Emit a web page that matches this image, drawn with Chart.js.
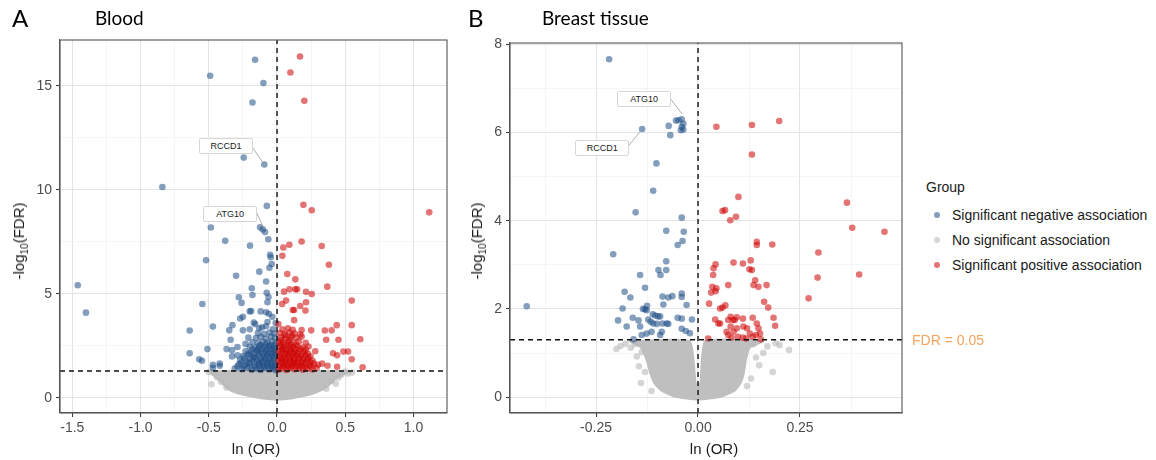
<!DOCTYPE html>
<html lang="en">
<head>
<meta charset="UTF-8">
<title>Volcano plots - Blood and Breast tissue</title>
<script src="https://cdn.jsdelivr.net/npm/chart.js"></script>
<style>
  body { margin: 0; background: #fff; width: 1156px; height: 460px; overflow: hidden; position: relative;
         font-family: "Liberation Sans", Arial, sans-serif; color: #1a1a1a; }
  canvas { position: absolute; top: 0; }
  #chartA { left: 0; }
  #chartB { left: 470px; }
  .txt { position: absolute; white-space: nowrap; transform: translate(0, -50%); }
  .letter { font-family: Lato, sans-serif; font-size: 24px; color: #000; }
  .title { font-family: Lato, sans-serif; font-size: 19px; color: #000; }
  .ytitle { position: absolute; white-space: nowrap; font-size: 15px; transform: translate(-50%, -50%) rotate(-90deg); }
  .ytitle sub { font-size: 10px; }
  .xtitle { position: absolute; white-space: nowrap; font-size: 15px; transform: translate(-50%, -50%); }
  .gene { position: absolute; width: 52px; height: 14px; line-height: 14px; font-size: 9px; text-align: center;
          background: #fff; border: 1px solid #d6d6d6; border-radius: 2px; transform: translate(-50%, -50%); }
  .legend-item { position: absolute; left: 934px; font-size: 14px; white-space: nowrap; transform: translate(0, -50%); }
  .legend-item span { display: inline-block; width: 6px; height: 6px; border-radius: 50%; margin-right: 12px; vertical-align: middle; position: relative; top: -1px; }
  #fdr { position: absolute; font-size: 14px; color: #F4A460; white-space: nowrap; transform: translate(0, -50%); }
</style>
</head>
<body>
<canvas id="chartA" width="460" height="460"></canvas>
<canvas id="chartB" width="450" height="460"></canvas>

<div class="txt letter" style="left:12px; top:17px;">A</div>
<div class="txt title" style="left:95px; top:17px;">Blood</div>
<div class="txt letter" style="left:468px; top:17px;">B</div>
<div class="txt title" style="left:542px; top:17px;">Breast tissue</div>

<div class="ytitle" style="left:20px; top:241px;">-log<sub>10</sub>(FDR)</div>
<div class="ytitle" style="left:478px; top:241px;">-log<sub>10</sub>(FDR)</div>
<div class="xtitle" style="left:256px; top:448px;">ln (OR)</div>
<div class="xtitle" style="left:714px; top:448px;">ln (OR)</div>

<div class="txt" style="left:926px; top:187px; font-size:14px;">Group</div>
<div class="legend-item" style="top:215px;"><span style="background:rgba(31,78,135,0.55)"></span>Significant negative association</div>
<div class="legend-item" style="top:240px;"><span style="background:rgba(185,185,185,0.6)"></span>No significant association</div>
<div class="legend-item" style="top:265px;"><span style="background:rgba(205,0,0,0.55)"></span>Significant positive association</div>
<div id="fdr">FDR = 0.05</div>

<script>
    // FDR = 0.05 threshold on the -log10 scale
    const FDR_CUT = 1.301;

    // ---- Panel A: Blood ----
    const bloodNeg = [
        [-0.161,16.25],[-0.49,15.48],[-0.10,15.13],[-0.18,14.2],[-0.244,11.55],[-0.093,11.22],[-0.84,10.14],
        [-0.075,9.23],[-0.485,8.19],[-0.124,8.2],[-0.105,8.1],[-0.088,7.97],[-0.38,7.55],[-0.064,7.63],[-0.198,7.32],
        [-0.051,6.88],[-0.046,6.76],[-0.039,6.44],[-0.52,6.62],[-0.13,6.07],[-0.056,6.26],[-0.3,5.87],[-0.08,5.6],
        [-0.185,5.27],[-0.076,5.06],[-0.18,4.95],[-0.28,4.84],[-0.547,4.52],[-0.26,4.57],[-0.07,4.6],[-0.063,4.85],
        [-0.2,4.16],[-0.19,4.18],[-0.12,4.16],[-0.08,4.12],[-0.06,4.05],[-0.25,3.9],[-0.27,3.82],[-0.327,3.5],
        [-0.47,3.43],[-0.64,3.24],[-0.35,3.25],[-0.25,3.25],[-0.17,3.62],[-0.16,3.55],[-0.11,3.4],[-0.07,3.65],
        [-0.21,2.9],[-0.34,2.8],[-0.23,2.6],[-0.29,2.45],[-0.51,2.35],[-0.64,2.15],[-0.57,1.86],[-0.55,1.79],
        [-0.37,2.35],[-0.33,2.3],[-0.47,1.45],[-0.42,1.55],[-0.47,1.59],[-0.42,1.66],[-0.33,2.0],[-0.29,2.05],
        [-1.46,5.42],[-1.40,4.1],
        [-0.31,1.42],[-0.26,1.38],[-0.22,1.45],[-0.185,1.36],[-0.15,1.41],[-0.12,1.35],[-0.09,1.44],[-0.06,1.37],
        [-0.03,1.42],[-0.012,1.34],[-0.28,1.62],[-0.24,1.58],[-0.2,1.66],[-0.165,1.57],[-0.13,1.63],[-0.1,1.56],
        [-0.07,1.64],[-0.04,1.58],[-0.015,1.6],[-0.27,1.83],[-0.225,1.78],[-0.18,1.86],[-0.145,1.8],[-0.115,1.77],
        [-0.085,1.85],[-0.055,1.79],[-0.025,1.84],[-0.25,2.02],[-0.21,2.08],[-0.17,1.98],[-0.135,2.05],[-0.1,2.0],
        [-0.07,2.07],[-0.04,1.99],[-0.012,2.04],[-0.23,2.25],[-0.19,2.2],[-0.15,2.28],[-0.12,2.22],[-0.085,2.27],
        [-0.055,2.19],[-0.025,2.26],[-0.2,2.46],[-0.16,2.42],[-0.13,2.5],[-0.095,2.44],[-0.06,2.48],[-0.03,2.41],
        [-0.18,2.68],[-0.14,2.63],[-0.105,2.7],[-0.07,2.66],[-0.035,2.72],[-0.01,2.62],[-0.155,2.88],[-0.12,2.93],
        [-0.08,2.86],[-0.045,2.95],[-0.015,2.9],[-0.14,3.12],[-0.095,3.08],[-0.055,3.15],[-0.02,3.1],[-0.2,3.3],
        [-0.13,3.35],[-0.03,3.3],[-0.08,3.45],[-0.01,3.6],[-0.035,3.9],
        [-0.29,1.52],[-0.245,1.48],[-0.2,1.5],[-0.16,1.47],[-0.13,1.52],[-0.1,1.49],[-0.07,1.53],[-0.045,1.48],
        [-0.02,1.5],[-0.26,1.72],[-0.21,1.7],[-0.17,1.74],[-0.13,1.69],[-0.1,1.73],[-0.07,1.71],[-0.04,1.69],
        [-0.01,1.72],[-0.24,1.93],[-0.2,1.9],[-0.16,1.95],[-0.12,1.91],[-0.09,1.94],[-0.055,1.9],[-0.025,1.95],
        [-0.21,2.14],[-0.17,2.12],[-0.135,2.16],[-0.1,2.13],[-0.07,2.15],[-0.04,2.11],[-0.01,2.15],[-0.18,2.35],
        [-0.14,2.33],[-0.11,2.36],[-0.075,2.34],[-0.045,2.37],[-0.015,2.32],[-0.12,2.55],[-0.085,2.58],[-0.05,2.55],
        [-0.02,2.52]
    ];
    const bloodPos = [
        [0.168,16.41],[0.098,15.64],[0.2,14.28],[0.193,9.28],[0.254,9.02],[1.115,8.92],[0.18,7.52],[0.046,7.23],
        [0.09,7.36],[0.327,7.3],[0.039,6.83],[0.38,6.4],[0.075,5.96],[0.134,5.7],[0.368,5.35],[0.051,5.11],
        [0.091,5.22],[0.134,5.22],[0.147,5.22],[0.212,5.1],[0.254,5.0],[0.037,4.52],[0.066,4.68],[0.212,4.6],
        [0.17,4.42],[0.115,4.23],[0.125,4.23],[0.208,4.2],[0.547,4.68],[0.125,3.74],[0.437,3.5],[0.547,3.5],
        [0.35,3.24],[0.25,3.25],[0.4,3.25],[0.18,3.27],[0.61,2.82],[0.36,2.8],[0.45,2.8],[0.41,2.15],[0.486,2.23],
        [0.52,2.23],[0.547,1.86],[0.627,1.48],[0.44,2.05],[0.37,1.55],[0.44,1.5],[0.3,1.6],[0.33,1.65],
        [0.012,1.36],[0.04,1.42],[0.07,1.35],[0.1,1.44],[0.13,1.38],[0.16,1.43],[0.19,1.36],[0.22,1.41],[0.26,1.37],
        [0.29,1.45],[0.015,1.58],[0.045,1.64],[0.075,1.57],[0.105,1.62],[0.135,1.66],[0.165,1.58],[0.2,1.63],
        [0.235,1.57],[0.27,1.65],[0.01,1.8],[0.035,1.86],[0.065,1.79],[0.095,1.84],[0.125,1.78],[0.155,1.87],
        [0.19,1.8],[0.225,1.85],[0.26,1.79],[0.02,2.03],[0.05,1.98],[0.08,2.06],[0.11,2.0],[0.14,2.05],[0.175,1.99],
        [0.21,2.07],[0.245,2.01],[0.012,2.24],[0.04,2.28],[0.07,2.21],[0.1,2.27],[0.13,2.2],[0.16,2.26],[0.2,2.22],
        [0.28,2.25],[0.02,2.46],[0.05,2.42],[0.085,2.5],[0.115,2.44],[0.15,2.48],[0.19,2.43],[0.23,2.47],
        [0.015,2.68],[0.045,2.64],[0.08,2.7],[0.12,2.66],[0.16,2.72],[0.21,2.65],[0.03,2.9],[0.065,2.86],[0.1,2.93],
        [0.14,2.88],[0.18,2.95],[0.02,3.12],[0.055,3.08],[0.09,3.15],[0.13,3.1],[0.17,3.05],[0.04,3.3],[0.08,3.35],
        [0.115,3.28],[0.01,3.55],
        [0.025,1.5],[0.055,1.52],[0.085,1.48],[0.115,1.53],[0.145,1.5],[0.18,1.52],[0.21,1.49],[0.25,1.51],
        [0.03,1.72],[0.06,1.7],[0.09,1.73],[0.12,1.69],[0.15,1.72],[0.18,1.7],[0.215,1.74],[0.245,1.7],
        [0.025,1.93],[0.06,1.9],[0.095,1.94],[0.125,1.91],[0.16,1.93],[0.195,1.9],[0.23,1.94],[0.03,2.14],
        [0.06,2.12],[0.09,2.16],[0.12,2.13],[0.15,2.15],[0.185,2.12],[0.225,2.14],[0.035,2.35],[0.065,2.33],
        [0.1,2.37],[0.13,2.34],[0.17,2.36],[0.21,2.33],[0.03,2.57],[0.065,2.55],[0.1,2.58],[0.14,2.56],
        [0.03,2.78],[0.09,2.8],[0.06,3.0],[0.11,3.0]
    ];
    const bloodNone = [
        [-0.48,0.66],[0.50,1.27],[0.43,0.68],[0.55,1.22],[-0.47,1.22],[-0.44,1.0],[-0.41,0.78],[0.45,0.98],
        [0.47,1.12],[0.52,1.18],[-0.37,0.5],[0.36,0.45],[-0.5,1.25],[0.4,0.82]
    ];
    // outline of the dense grey cloud of non-significant genes
    const bloodCloud = [
        [-0.50,1.3],[-0.47,1.1],[-0.43,0.87],[-0.39,0.6],[-0.35,0.38],[-0.29,0.22],[-0.2,0.08],[-0.1,-0.04],
        [0,-0.09],[0.1,-0.04],[0.19,0.08],[0.27,0.22],[0.33,0.38],[0.38,0.6],[0.42,0.87],[0.48,1.1],[0.55,1.3],
        [-0.50,1.3]
    ];
    const bloodGenes = [{gene: 'RCCD1', x: -0.373, y: 12.12}, {gene: 'ATG10', x: -0.344, y: 8.85}];
    const bloodLinks = [[[-0.185,12.08],[-0.1,11.28]], [[-0.149,8.91],[-0.1,8.16]]];
    const bloodXTicks = [-1.5, -1, -0.5, 0, 0.5, 1];
    const bloodXLabels = ['-1.5', '-1.0', '-0.5', '0.0', '0.5', '1.0'];
    const bloodXMinor = [-1.25, -0.75, -0.25, 0.25, 0.75];
    const bloodYTicks = [0, 5, 10, 15];
    const bloodYLabels = ['0', '5', '10', '15'];
    const bloodYMinor = [2.5, 7.5, 12.5];

    // ---- Panel B: Breast tissue ----
    const breastNeg = [
        [-0.218,7.66],[-0.137,6.08],[-0.054,6.27],[-0.048,6.28],[-0.04,6.3],[-0.036,6.2],[-0.072,6.15],[-0.04,6.13],
        [-0.042,6.05],[-0.036,6.07],[-0.068,5.94],[-0.102,5.3],[-0.11,4.68],[-0.153,4.19],[-0.04,4.07],[-0.078,3.77],
        [-0.035,3.75],[-0.038,3.54],[-0.05,3.45],[-0.208,3.24],[-0.078,3.08],[-0.097,2.88],[-0.078,2.88],[-0.092,2.77],
        [-0.142,2.77],[-0.13,2.48],[-0.18,2.39],[-0.166,2.26],[-0.185,2.01],[-0.135,2.0],[-0.13,1.99],[-0.125,2.07],
        [-0.196,1.74],[-0.16,1.8],[-0.175,1.6],[-0.087,2.28],[-0.073,2.26],[-0.063,2.29],[-0.04,2.35],[-0.04,2.27],
        [-0.085,2.1],[-0.028,2.09],[-0.05,1.8],[-0.04,1.78],[-0.015,1.76],[-0.04,1.55],[-0.03,1.5],[-0.02,1.45],
        [-0.158,1.31],[-0.42,2.06],[-0.111,1.88],[-0.105,1.85],[-0.098,1.83],[-0.093,1.83],[-0.122,1.76],[-0.116,1.71],
        [-0.11,1.67],[-0.101,1.66],[-0.087,1.67],[-0.077,1.67],[-0.073,1.66],[-0.142,1.6],[-0.138,1.41],[-0.126,1.44],
        [-0.114,1.48],[-0.093,1.41],[-0.089,1.48],[-0.146,1.74],[-0.126,1.97]
    ];
    const breastPos = [
        [0.045,6.13],[0.132,6.17],[0.199,6.26],[0.132,5.5],[0.099,4.54],[0.06,4.22],[0.066,4.24],[0.093,4.09],
        [0.079,4.01],[0.365,4.41],[0.378,3.84],[0.457,3.75],[0.144,3.52],[0.144,3.45],[0.182,3.46],[0.295,3.28],
        [0.395,2.78],[0.293,2.71],[0.271,2.24],[0.043,3.01],[0.038,2.92],[0.037,2.77],[0.087,3.05],[0.11,3.03],
        [0.129,3.1],[0.126,2.9],[0.132,2.88],[0.14,2.65],[0.136,2.54],[0.148,2.5],[0.168,2.54],[0.162,2.16],
        [0.172,2.03],[0.074,2.54],[0.035,2.5],[0.043,2.4],[0.032,2.37],[0.045,2.47],[0.027,2.12],[0.054,2.01],
        [0.06,2.03],[0.067,2.08],[0.042,1.76],[0.05,1.67],[0.074,1.75],[0.08,1.82],[0.095,1.81],[0.09,1.75],
        [0.11,1.78],[0.08,1.6],[0.095,1.56],[0.111,1.6],[0.087,1.48],[0.074,1.41],[0.12,1.56],[0.134,1.8],
        [0.144,1.67],[0.148,1.56],[0.152,1.44],[0.185,1.8],[0.189,1.62],[0.025,1.33],[0.082,1.35],[0.098,1.37],
        [0.11,1.35],[0.118,1.33],[0.134,1.37],[0.142,1.41],[0.154,1.31],[0.054,1.67],[0.07,1.48],[0.127,1.44],
        [0.086,1.75]
    ];
    const breastNone = [
        [-0.2,1.09],[0.223,1.07],[0.183,0.57],[-0.14,0.32],[-0.114,0.14],[-0.13,0.57],[-0.19,1.16],[-0.178,1.21],
        [-0.165,1.12],[0.17,1.15],[0.19,1.22],[-0.15,0.92],[0.142,0.9],[0.15,0.72],[-0.145,0.7],[0.13,0.42],
        [-0.138,1.02],[0.16,1.0],[0.2,1.18],[-0.155,1.2],[0.135,1.2],[0.12,0.25]
    ];
    const breastCloud = [
        [-0.17,1.27],[-0.14,1.12],[-0.127,0.85],[-0.118,0.55],[-0.108,0.32],[-0.09,0.14],[-0.055,0.0],[0,-0.065],
        [0.055,0.0],[0.09,0.14],[0.105,0.32],[0.113,0.55],[0.118,0.85],[0.127,1.12],[0.16,1.27],[0.017,1.27],
        [0.005,0.3],[-0.005,0.3],[-0.02,1.27],[-0.17,1.27]
    ];
    const breastGenes = [{gene: 'ATG10', x: -0.132, y: 6.75}, {gene: 'RCCD1', x: -0.235, y: 5.66}];
    const breastLinks = [[[-0.069,6.78],[-0.039,6.42]], [[-0.172,5.68],[-0.142,6.02]]];
    const breastXTicks = [-0.25, 0, 0.25];
    const breastXLabels = ['-0.25', '0.00', '0.25'];
    const breastXMinor = [-0.375, -0.125, 0.125, 0.375];
    const breastYTicks = [0, 2, 4, 6, 8];
    const breastYLabels = ['0', '2', '4', '6', '8'];
    const breastYMinor = [1, 3, 5, 7];

    const BLUE = 'rgba(31,78,135,0.55)';
    const RED = 'rgba(205,0,0,0.55)';
    const GREY = 'rgba(185,185,185,0.6)';
    const TICK_FONT = {family: '"Liberation Sans", Arial, sans-serif', size: 14};

    function toPts(arr) {
        return arr.map(p => ({x: p[0], y: p[1]}));
    }

    const panelBorder = {
        id: 'panelBorder',
        afterDraw(chart) {
            const {ctx, chartArea: a} = chart;
            ctx.save();
            ctx.strokeStyle = '#555';
            ctx.lineWidth = 1.1;
            ctx.strokeRect(a.left, a.top, a.right - a.left, a.bottom - a.top);
            ctx.restore();
        }
    };

    function axis(min, max, major, labels, minor, fitProp, fitSize) {
        const all = major.concat(minor).sort((a, b) => a - b);
        const isMajor = v => major.indexOf(v) >= 0;
        return {
            type: 'linear',
            min: min,
            max: max,
            afterBuildTicks: s => { s.ticks = all.map(v => ({value: v})); },
            afterFit: s => { s[fitProp] = fitSize; },
            ticks: {
                autoSkip: false,
                maxRotation: 0,
                padding: fitProp === 'height' ? 3 : 4,
                color: '#4d4d4d',
                font: TICK_FONT,
                callback: v => isMajor(v) ? labels[major.indexOf(v)] : ''
            },
            grid: {
                color: c => (c.tick && isMajor(c.tick.value)) ? '#e4e4e4' : '#f0f0f0',
                lineWidth: c => (c.tick && isMajor(c.tick.value)) ? 1.1 : 0.7,
                tickLength: 4,
                tickColor: c => (c.tick && isMajor(c.tick.value)) ? '#333' : 'rgba(0,0,0,0)',
                tickWidth: 1
            },
            border: {display: true, color: '#555', width: 1.1}
        };
    }

    function buildPanel(id, p) {
        const dashed = {showLine: true, borderColor: '#111', borderWidth: 1.4, borderDash: [5, 4], pointRadius: 0};
        const dots = {pointRadius: 3.3, pointBorderWidth: 0};
        const datasets = [
            Object.assign({data: toPts([[0, p.yMin], [0, p.yMax]])}, dashed),
            Object.assign({data: toPts([[p.xMin, FDR_CUT], [p.xMax, FDR_CUT]])}, dashed)
        ];
        p.links.forEach(l => datasets.push({data: toPts(l), showLine: true, borderColor: '#9a9a9a', borderWidth: 0.8, pointRadius: 0}));
        datasets.push(Object.assign({data: toPts(p.pos), backgroundColor: RED, pointBackgroundColor: RED}, dots));
        datasets.push(Object.assign({data: toPts(p.neg), backgroundColor: BLUE, pointBackgroundColor: BLUE}, dots));
        datasets.push(Object.assign({data: toPts(p.none), backgroundColor: GREY, pointBackgroundColor: GREY}, dots));
        datasets.push({
            data: toPts(p.cloud), showLine: true, fill: 'shape', tension: 0.15,
            backgroundColor: 'rgb(191,191,191)', borderColor: 'rgb(191,191,191)', borderWidth: 1.5, pointRadius: 0
        });

        return new Chart(document.getElementById(id), {
            type: 'scatter',
            data: {datasets: datasets},
            options: {
                responsive: false,
                animation: false,
                events: [],
                layout: {padding: {top: p.padTop, right: p.padRight, left: 0, bottom: 0}},
                plugins: {legend: {display: false}, tooltip: {enabled: false}},
                scales: {
                    x: axis(p.xMin, p.xMax, p.xTicks, p.xLabels, p.xMinor, 'height', 47),
                    y: axis(p.yMin, p.yMax, p.yTicks, p.yLabels, p.yMinor, 'width', p.yWidth)
                }
            },
            plugins: [panelBorder]
        });
    }

    function placeGenes(chart, offsetLeft, genes) {
        genes.forEach(g => {
            const d = document.createElement('div');
            d.className = 'gene';
            d.textContent = g.gene;
            d.style.left = (offsetLeft + chart.scales.x.getPixelForValue(g.x)) + 'px';
            d.style.top = chart.scales.y.getPixelForValue(g.y) + 'px';
            document.body.appendChild(d);
        });
    }

    const chartA = buildPanel('chartA', {
        neg: bloodNeg, pos: bloodPos, none: bloodNone, cloud: bloodCloud, links: bloodLinks,
        xMin: -1.59, xMax: 1.245, yMin: -0.72, yMax: 17.2,
        xTicks: bloodXTicks, xLabels: bloodXLabels, xMinor: bloodXMinor,
        yTicks: bloodYTicks, yLabels: bloodYLabels, yMinor: bloodYMinor,
        padTop: 40, padRight: 13, yWidth: 60
    });
    const chartB = buildPanel('chartB', {
        neg: breastNeg, pos: breastPos, none: breastNone, cloud: breastCloud, links: breastLinks,
        xMin: -0.461, xMax: 0.5, yMin: -0.36, yMax: 8.03,
        xTicks: breastXTicks, xLabels: breastXLabels, xMinor: breastXMinor,
        yTicks: breastYTicks, yLabels: breastYLabels, yMinor: breastYMinor,
        padTop: 43, padRight: 18, yWidth: 40
    });

    placeGenes(chartA, 0, bloodGenes);
    placeGenes(chartB, 470, breastGenes);

    const fdr = document.getElementById('fdr');
    fdr.style.left = (470 + chartB.chartArea.right + 10) + 'px';
    fdr.style.top = chartB.scales.y.getPixelForValue(FDR_CUT) + 'px';
</script>
</body>
</html>
